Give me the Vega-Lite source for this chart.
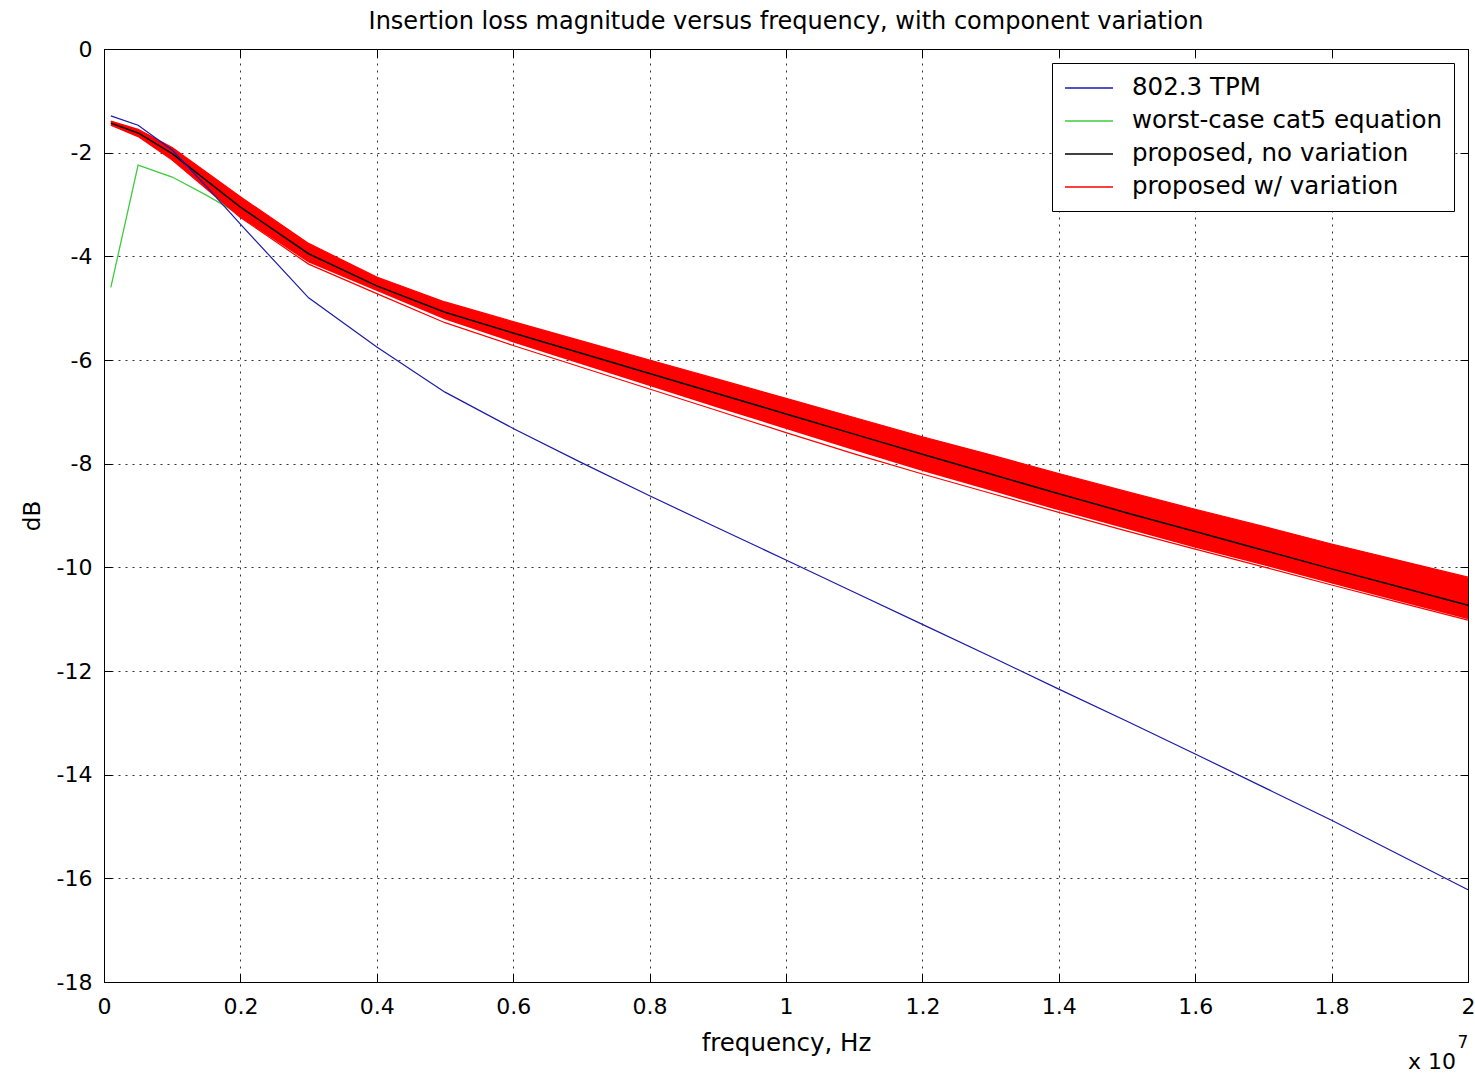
{
  "$schema": "https://vega.github.io/schema/vega-lite/v6.json",
  "width": 1364,
  "height": 933,
  "autosize": {"type": "none"},
  "padding": {"left": 104, "top": 49, "right": 7, "bottom": 94},
  "background": "white",
  "title": {"text": "Insertion loss magnitude versus frequency, with component variation", "font": "DejaVu Sans", "fontSize": 24, "fontWeight": "normal", "color": "black", "offset": 4},
  "config": {
    "view": {"stroke": "black", "strokeWidth": 1},
    "font": "DejaVu Sans",
    "legend": {"orient": "top-right", "offset": 14, "symbolType": "M-2,0H2", "symbolSize": 576, "symbolOffset": 12, "symbolStrokeWidth": 1.5, "labelFontSize": 24.5, "labelFont": "DejaVu Sans", "labelColor": "black", "strokeColor": "black", "fillColor": "white", "padding": 12, "rowPadding": 8, "labelOffset": 30, "labelLimit": 600, "cornerRadius": 0}
  },
  "datasets": {
    "band": [
      {"freq": 100000, "hi": -1.39, "lo": -1.47, "inner": -1.47},
      {"freq": 500000, "hi": -1.55, "lo": -1.69, "inner": -1.69},
      {"freq": 1000000, "hi": -1.90, "lo": -2.14, "inner": -2.14},
      {"freq": 2000000, "hi": -2.85, "lo": -3.25, "inner": -3.25},
      {"freq": 3000000, "hi": -3.75, "lo": -4.15, "inner": -4.12},
      {"freq": 4000000, "hi": -4.40, "lo": -4.72, "inner": -4.67},
      {"freq": 5000000, "hi": -4.88, "lo": -5.28, "inner": -5.22},
      {"freq": 6000000, "hi": -5.26, "lo": -5.72, "inner": -5.66},
      {"freq": 7000000, "hi": -5.63, "lo": -6.14, "inner": -6.08},
      {"freq": 8000000, "hi": -6.00, "lo": -6.56, "inner": -6.50},
      {"freq": 9000000, "hi": -6.37, "lo": -6.98, "inner": -6.92},
      {"freq": 10000000, "hi": -6.74, "lo": -7.40, "inner": -7.33},
      {"freq": 11000000, "hi": -7.11, "lo": -7.81, "inner": -7.74},
      {"freq": 12000000, "hi": -7.48, "lo": -8.20, "inner": -8.14},
      {"freq": 13000000, "hi": -7.83, "lo": -8.57, "inner": -8.52},
      {"freq": 14000000, "hi": -8.19, "lo": -8.94, "inner": -8.90},
      {"freq": 15000000, "hi": -8.54, "lo": -9.30, "inner": -9.26},
      {"freq": 16000000, "hi": -8.88, "lo": -9.65, "inner": -9.62},
      {"freq": 17000000, "hi": -9.21, "lo": -9.99, "inner": -9.96},
      {"freq": 18000000, "hi": -9.55, "lo": -10.34, "inner": -10.31},
      {"freq": 19000000, "hi": -9.87, "lo": -10.68, "inner": -10.66},
      {"freq": 20000000, "hi": -10.19, "lo": -11.02, "inner": -11.00}
    ],
    "lines": [
      {"series": "802.3 TPM", "trace": "tpm", "freq": 100000, "dB": -1.29},
      {"series": "802.3 TPM", "trace": "tpm", "freq": 500000, "dB": -1.47},
      {"series": "802.3 TPM", "trace": "tpm", "freq": 1000000, "dB": -1.95},
      {"series": "802.3 TPM", "trace": "tpm", "freq": 1500000, "dB": -2.65},
      {"series": "802.3 TPM", "trace": "tpm", "freq": 2000000, "dB": -3.38},
      {"series": "802.3 TPM", "trace": "tpm", "freq": 3000000, "dB": -4.80},
      {"series": "802.3 TPM", "trace": "tpm", "freq": 4000000, "dB": -5.75},
      {"series": "802.3 TPM", "trace": "tpm", "freq": 5000000, "dB": -6.62},
      {"series": "802.3 TPM", "trace": "tpm", "freq": 6000000, "dB": -7.32},
      {"series": "802.3 TPM", "trace": "tpm", "freq": 7000000, "dB": -7.98},
      {"series": "802.3 TPM", "trace": "tpm", "freq": 8000000, "dB": -8.62},
      {"series": "802.3 TPM", "trace": "tpm", "freq": 9000000, "dB": -9.24},
      {"series": "802.3 TPM", "trace": "tpm", "freq": 10000000, "dB": -9.86},
      {"series": "802.3 TPM", "trace": "tpm", "freq": 11000000, "dB": -10.48},
      {"series": "802.3 TPM", "trace": "tpm", "freq": 12000000, "dB": -11.10},
      {"series": "802.3 TPM", "trace": "tpm", "freq": 13000000, "dB": -11.72},
      {"series": "802.3 TPM", "trace": "tpm", "freq": 14000000, "dB": -12.35},
      {"series": "802.3 TPM", "trace": "tpm", "freq": 15000000, "dB": -12.97},
      {"series": "802.3 TPM", "trace": "tpm", "freq": 16000000, "dB": -13.60},
      {"series": "802.3 TPM", "trace": "tpm", "freq": 17000000, "dB": -14.24},
      {"series": "802.3 TPM", "trace": "tpm", "freq": 18000000, "dB": -14.88},
      {"series": "802.3 TPM", "trace": "tpm", "freq": 19000000, "dB": -15.55},
      {"series": "802.3 TPM", "trace": "tpm", "freq": 20000000, "dB": -16.22},

      {"series": "worst-case cat5 equation", "trace": "cat5", "freq": 100000, "dB": -4.60},
      {"series": "worst-case cat5 equation", "trace": "cat5", "freq": 500000, "dB": -2.24},
      {"series": "worst-case cat5 equation", "trace": "cat5", "freq": 1000000, "dB": -2.47},
      {"series": "worst-case cat5 equation", "trace": "cat5", "freq": 1500000, "dB": -2.82},
      {"series": "worst-case cat5 equation", "trace": "cat5", "freq": 2000000, "dB": -3.20},
      {"series": "worst-case cat5 equation", "trace": "cat5", "freq": 3000000, "dB": -4.05},
      {"series": "worst-case cat5 equation", "trace": "cat5", "freq": 4000000, "dB": -4.60},
      {"series": "worst-case cat5 equation", "trace": "cat5", "freq": 5000000, "dB": -5.05},
      {"series": "worst-case cat5 equation", "trace": "cat5", "freq": 6000000, "dB": -5.42},
      {"series": "worst-case cat5 equation", "trace": "cat5", "freq": 7000000, "dB": -5.78},
      {"series": "worst-case cat5 equation", "trace": "cat5", "freq": 8000000, "dB": -6.13},
      {"series": "worst-case cat5 equation", "trace": "cat5", "freq": 9000000, "dB": -6.48},
      {"series": "worst-case cat5 equation", "trace": "cat5", "freq": 10000000, "dB": -6.83},
      {"series": "worst-case cat5 equation", "trace": "cat5", "freq": 11000000, "dB": -7.20},
      {"series": "worst-case cat5 equation", "trace": "cat5", "freq": 12000000, "dB": -7.56},
      {"series": "worst-case cat5 equation", "trace": "cat5", "freq": 13000000, "dB": -7.92},
      {"series": "worst-case cat5 equation", "trace": "cat5", "freq": 14000000, "dB": -8.27},
      {"series": "worst-case cat5 equation", "trace": "cat5", "freq": 15000000, "dB": -8.62},
      {"series": "worst-case cat5 equation", "trace": "cat5", "freq": 16000000, "dB": -8.96},
      {"series": "worst-case cat5 equation", "trace": "cat5", "freq": 17000000, "dB": -9.30},
      {"series": "worst-case cat5 equation", "trace": "cat5", "freq": 18000000, "dB": -9.63},
      {"series": "worst-case cat5 equation", "trace": "cat5", "freq": 19000000, "dB": -9.96},
      {"series": "worst-case cat5 equation", "trace": "cat5", "freq": 20000000, "dB": -10.28},

      {"series": "proposed, no variation", "trace": "nominal", "freq": 100000, "dB": -1.43},
      {"series": "proposed, no variation", "trace": "nominal", "freq": 500000, "dB": -1.62},
      {"series": "proposed, no variation", "trace": "nominal", "freq": 1000000, "dB": -2.02},
      {"series": "proposed, no variation", "trace": "nominal", "freq": 2000000, "dB": -3.05},
      {"series": "proposed, no variation", "trace": "nominal", "freq": 3000000, "dB": -3.95},
      {"series": "proposed, no variation", "trace": "nominal", "freq": 4000000, "dB": -4.57},
      {"series": "proposed, no variation", "trace": "nominal", "freq": 5000000, "dB": -5.08},
      {"series": "proposed, no variation", "trace": "nominal", "freq": 6000000, "dB": -5.48},
      {"series": "proposed, no variation", "trace": "nominal", "freq": 7000000, "dB": -5.87},
      {"series": "proposed, no variation", "trace": "nominal", "freq": 8000000, "dB": -6.26},
      {"series": "proposed, no variation", "trace": "nominal", "freq": 9000000, "dB": -6.65},
      {"series": "proposed, no variation", "trace": "nominal", "freq": 10000000, "dB": -7.04},
      {"series": "proposed, no variation", "trace": "nominal", "freq": 11000000, "dB": -7.43},
      {"series": "proposed, no variation", "trace": "nominal", "freq": 12000000, "dB": -7.82},
      {"series": "proposed, no variation", "trace": "nominal", "freq": 13000000, "dB": -8.20},
      {"series": "proposed, no variation", "trace": "nominal", "freq": 14000000, "dB": -8.58},
      {"series": "proposed, no variation", "trace": "nominal", "freq": 15000000, "dB": -8.95},
      {"series": "proposed, no variation", "trace": "nominal", "freq": 16000000, "dB": -9.31},
      {"series": "proposed, no variation", "trace": "nominal", "freq": 17000000, "dB": -9.67},
      {"series": "proposed, no variation", "trace": "nominal", "freq": 18000000, "dB": -10.03},
      {"series": "proposed, no variation", "trace": "nominal", "freq": 19000000, "dB": -10.38},
      {"series": "proposed, no variation", "trace": "nominal", "freq": 20000000, "dB": -10.73},

      {"series": "proposed w/ variation", "trace": "upper", "freq": 100000, "dB": -1.39},
      {"series": "proposed w/ variation", "trace": "upper", "freq": 500000, "dB": -1.55},
      {"series": "proposed w/ variation", "trace": "upper", "freq": 1000000, "dB": -1.90},
      {"series": "proposed w/ variation", "trace": "upper", "freq": 2000000, "dB": -2.85},
      {"series": "proposed w/ variation", "trace": "upper", "freq": 3000000, "dB": -3.75},
      {"series": "proposed w/ variation", "trace": "upper", "freq": 4000000, "dB": -4.40},
      {"series": "proposed w/ variation", "trace": "upper", "freq": 5000000, "dB": -4.88},
      {"series": "proposed w/ variation", "trace": "upper", "freq": 6000000, "dB": -5.26},
      {"series": "proposed w/ variation", "trace": "upper", "freq": 7000000, "dB": -5.63},
      {"series": "proposed w/ variation", "trace": "upper", "freq": 8000000, "dB": -6.00},
      {"series": "proposed w/ variation", "trace": "upper", "freq": 9000000, "dB": -6.37},
      {"series": "proposed w/ variation", "trace": "upper", "freq": 10000000, "dB": -6.74},
      {"series": "proposed w/ variation", "trace": "upper", "freq": 11000000, "dB": -7.11},
      {"series": "proposed w/ variation", "trace": "upper", "freq": 12000000, "dB": -7.48},
      {"series": "proposed w/ variation", "trace": "upper", "freq": 13000000, "dB": -7.83},
      {"series": "proposed w/ variation", "trace": "upper", "freq": 14000000, "dB": -8.19},
      {"series": "proposed w/ variation", "trace": "upper", "freq": 15000000, "dB": -8.54},
      {"series": "proposed w/ variation", "trace": "upper", "freq": 16000000, "dB": -8.88},
      {"series": "proposed w/ variation", "trace": "upper", "freq": 17000000, "dB": -9.21},
      {"series": "proposed w/ variation", "trace": "upper", "freq": 18000000, "dB": -9.55},
      {"series": "proposed w/ variation", "trace": "upper", "freq": 19000000, "dB": -9.87},
      {"series": "proposed w/ variation", "trace": "upper", "freq": 20000000, "dB": -10.19},

      {"series": "proposed w/ variation", "trace": "lower", "freq": 100000, "dB": -1.47},
      {"series": "proposed w/ variation", "trace": "lower", "freq": 500000, "dB": -1.69},
      {"series": "proposed w/ variation", "trace": "lower", "freq": 1000000, "dB": -2.14},
      {"series": "proposed w/ variation", "trace": "lower", "freq": 2000000, "dB": -3.25},
      {"series": "proposed w/ variation", "trace": "lower", "freq": 3000000, "dB": -4.15},
      {"series": "proposed w/ variation", "trace": "lower", "freq": 4000000, "dB": -4.72},
      {"series": "proposed w/ variation", "trace": "lower", "freq": 5000000, "dB": -5.28},
      {"series": "proposed w/ variation", "trace": "lower", "freq": 6000000, "dB": -5.72},
      {"series": "proposed w/ variation", "trace": "lower", "freq": 7000000, "dB": -6.14},
      {"series": "proposed w/ variation", "trace": "lower", "freq": 8000000, "dB": -6.56},
      {"series": "proposed w/ variation", "trace": "lower", "freq": 9000000, "dB": -6.98},
      {"series": "proposed w/ variation", "trace": "lower", "freq": 10000000, "dB": -7.40},
      {"series": "proposed w/ variation", "trace": "lower", "freq": 11000000, "dB": -7.81},
      {"series": "proposed w/ variation", "trace": "lower", "freq": 12000000, "dB": -8.20},
      {"series": "proposed w/ variation", "trace": "lower", "freq": 13000000, "dB": -8.57},
      {"series": "proposed w/ variation", "trace": "lower", "freq": 14000000, "dB": -8.94},
      {"series": "proposed w/ variation", "trace": "lower", "freq": 15000000, "dB": -9.30},
      {"series": "proposed w/ variation", "trace": "lower", "freq": 16000000, "dB": -9.65},
      {"series": "proposed w/ variation", "trace": "lower", "freq": 17000000, "dB": -9.99},
      {"series": "proposed w/ variation", "trace": "lower", "freq": 18000000, "dB": -10.34},
      {"series": "proposed w/ variation", "trace": "lower", "freq": 19000000, "dB": -10.68},
      {"series": "proposed w/ variation", "trace": "lower", "freq": 20000000, "dB": -11.02}
    ]
  },
  "resolve": {"axis": {"x": "independent", "y": "independent"}},
  "layer": [
    {
      "data": {"name": "lines"},
      "transform": [{"filter": "datum.series === 'worst-case cat5 equation'"}],
      "mark": {"type": "line", "strokeWidth": 1.3},
      "encoding": {
        "x": {"field": "freq", "type": "quantitative", "scale": {"domain": [0, 20000000], "nice": false, "zero": false},
          "axis": {"orient": "bottom", "values": [0, 2000000, 4000000, 6000000, 8000000, 10000000, 12000000, 14000000, 16000000, 18000000, 20000000],
            "labelExpr": "toString(datum.value/10000000)", "grid": true, "gridDash": [2, 5], "gridColor": "#000000", "gridOpacity": 0.8, "gridWidth": 1,
            "tickSize": -8, "tickColor": "#000000", "domainColor": "#000000", "labelFontSize": 22, "labelColor": "#000000", "labelPadding": 22, "labelFont": "DejaVu Sans",
            "title": "frequency, Hz", "titleFontSize": 24.5, "titleFontWeight": "normal", "titleColor": "#000000", "titlePadding": 14, "titleFont": "DejaVu Sans", "labelFlush": false}},
        "y": {"field": "dB", "type": "quantitative", "scale": {"domain": [-18, 0], "nice": false, "zero": false},
          "axis": {"orient": "left", "values": [-18, -16, -14, -12, -10, -8, -6, -4, -2, 0],
            "labelExpr": "toString(datum.value)", "grid": true, "gridDash": [2, 5], "gridColor": "#000000", "gridOpacity": 0.8, "gridWidth": 1,
            "tickSize": -8, "tickColor": "#000000", "domainColor": "#000000", "labelFontSize": 22, "labelColor": "#000000", "labelPadding": 20, "labelFont": "DejaVu Sans",
            "title": "dB", "titleFontSize": 23, "titleFontWeight": "normal", "titleColor": "#000000", "titlePadding": 12, "titleFont": "DejaVu Sans", "labelFlush": false}},
        "color": {"field": "series", "type": "nominal", "title": null,
          "scale": {"domain": ["802.3 TPM", "worst-case cat5 equation", "proposed, no variation", "proposed w/ variation"], "range": ["#1a1aa8", "#3ccc3c", "#000000", "#ff0000"]}}
      }
    },
    {
      "data": {"name": "band"},
      "mark": {"type": "area", "color": "#ff0000", "opacity": 1},
      "encoding": {
        "x": {"field": "freq", "type": "quantitative", "axis": null},
        "y": {"field": "hi", "type": "quantitative", "axis": null},
        "y2": {"field": "inner"}
      }
    },
    {
      "data": {"name": "lines"},
      "transform": [{"filter": "datum.series === 'proposed w/ variation'"}],
      "mark": {"type": "line", "strokeWidth": 1.2},
      "encoding": {
        "x": {"field": "freq", "type": "quantitative",
          "axis": {"orient": "top", "values": [0, 2000000, 4000000, 6000000, 8000000, 10000000, 12000000, 14000000, 16000000, 18000000, 20000000], "labels": false, "grid": false, "tickSize": -8, "tickColor": "#000000", "domainColor": "#000000", "title": null}},
        "y": {"field": "dB", "type": "quantitative",
          "axis": {"orient": "right", "values": [-18, -16, -14, -12, -10, -8, -6, -4, -2, 0], "labels": false, "grid": false, "tickSize": -8, "tickColor": "#000000", "domainColor": "#000000", "title": null}},
        "detail": {"field": "trace"},
        "color": {"field": "series", "type": "nominal", "title": null,
          "scale": {"domain": ["802.3 TPM", "worst-case cat5 equation", "proposed, no variation", "proposed w/ variation"], "range": ["#1a1aa8", "#3ccc3c", "#000000", "#ff0000"]}}
      }
    },
    {
      "data": {"name": "lines"},
      "transform": [{"filter": "datum.series === 'proposed, no variation'"}],
      "mark": {"type": "line", "strokeWidth": 1.5},
      "encoding": {
        "x": {"field": "freq", "type": "quantitative", "axis": null},
        "y": {"field": "dB", "type": "quantitative", "axis": null},
        "color": {"field": "series", "type": "nominal", "title": null,
          "scale": {"domain": ["802.3 TPM", "worst-case cat5 equation", "proposed, no variation", "proposed w/ variation"], "range": ["#1a1aa8", "#3ccc3c", "#000000", "#ff0000"]}}
      }
    },
    {
      "data": {"name": "lines"},
      "transform": [{"filter": "datum.series === '802.3 TPM'"}],
      "mark": {"type": "line", "strokeWidth": 1.2},
      "encoding": {
        "x": {"field": "freq", "type": "quantitative", "axis": null},
        "y": {"field": "dB", "type": "quantitative", "axis": null},
        "color": {"field": "series", "type": "nominal", "title": null,
          "scale": {"domain": ["802.3 TPM", "worst-case cat5 equation", "proposed, no variation", "proposed w/ variation"], "range": ["#1a1aa8", "#3ccc3c", "#000000", "#ff0000"]}}
      }
    },
    {
      "data": {"values": [{"label": "x 10"}]},
      "mark": {"type": "text", "align": "right", "baseline": "middle", "fontSize": 22, "font": "DejaVu Sans", "color": "#000000", "dx": -12, "dy": 80},
      "encoding": {
        "x": {"datum": 20000000, "type": "quantitative", "axis": null},
        "y": {"datum": -18, "type": "quantitative", "axis": null},
        "text": {"field": "label"}
      }
    },
    {
      "data": {"values": [{"label": "7"}]},
      "mark": {"type": "text", "align": "center", "baseline": "middle", "fontSize": 17, "font": "DejaVu Sans", "color": "#000000", "dx": -5, "dy": 61},
      "encoding": {
        "x": {"datum": 20000000, "type": "quantitative", "axis": null},
        "y": {"datum": -18, "type": "quantitative", "axis": null},
        "text": {"field": "label"}
      }
    }
  ]
}
